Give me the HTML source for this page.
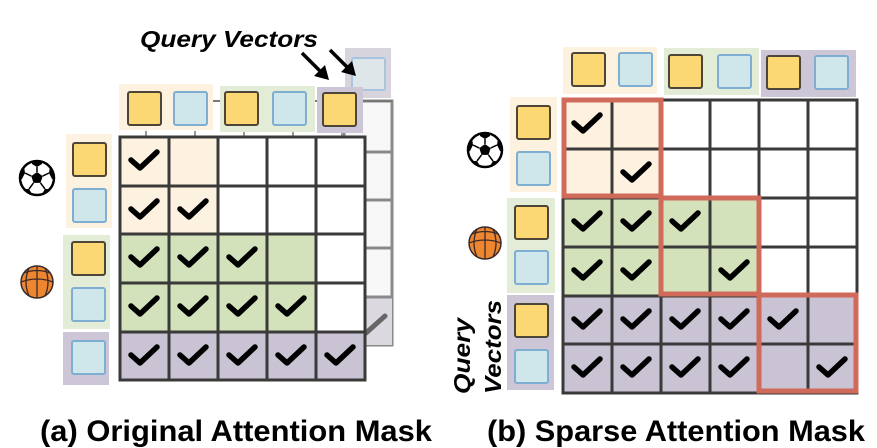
<!DOCTYPE html>
<html><head><meta charset="utf-8"><style>
html,body{margin:0;padding:0;background:#fff;}
svg{display:block;font-family:"Liberation Sans",sans-serif;}
</style></head><body>
<svg width="877" height="448" viewBox="0 0 877 448" xmlns="http://www.w3.org/2000/svg">
<defs>
<path id="ck" d="M11 23 L20 31 L37 15" stroke="#000" stroke-width="5.5" fill="none" stroke-linecap="round" stroke-linejoin="round"/>
<rect id="ty" width="33" height="33" rx="2" fill="#fcd874" stroke="#4d4538" stroke-width="2"/>
<rect id="tb" width="33" height="33" rx="2" fill="#cfe6ea" stroke="#7eaed2" stroke-width="2"/>
<clipPath id="bc"><circle r="16"/></clipPath>
<g id="soccer">
<circle r="17" fill="#fff"/>
<g clip-path="url(#bc)" fill="#000">
<polygon points="0,-6 5.7,-1.9 3.5,4.9 -3.5,4.9 -5.7,-1.9"/>
<polygon points="-5,-20 5,-20 5,-14 0,-11 -5,-14"/>
<polygon points="13,-12 20,-8 20,2 15,1 12,-5"/>
<polygon points="-13,-12 -20,-8 -20,2 -15,1 -12,-5"/>
<polygon points="-13,11 -8,11 -5,16 -10,20 -16,16"/>
<polygon points="13,11 8,11 5,16 10,20 16,16"/>
</g>
<path d="M0 -6 L0 -11 M5.7 -1.9 L12 -5 M-5.7 -1.9 L-12 -5 M3.5 4.9 L8 11 M-3.5 4.9 L-8 11" stroke="#000" stroke-width="1.5"/>
<circle r="17" fill="none" stroke="#000" stroke-width="2.5"/>
</g>
<g id="bball">
<circle r="16" fill="#ee8630" stroke="#3a2a2a" stroke-width="1.5"/>
<path d="M-16 0 Q0 -6 16 0 M-8 -14 Q-14 0 -8 14 M8 -14 Q14 0 8 14 M0 -16 L0 16 M-13 -9 Q0 -14 13 -9" stroke="#3a2a2a" stroke-width="1.3" fill="none"/>
</g>
</defs>

<!-- ===== (a) ===== -->
<rect x="345" y="48" width="46" height="50" fill="#d8d4de"/>
<rect x="352" y="58" width="33" height="32" rx="2" fill="#dfe6ea" stroke="#a8c4de" stroke-width="2"/>
<rect x="344" y="101" width="48" height="244" fill="#f8f8f8" stroke="#8a8a8a" stroke-width="3"/>
<rect x="365" y="297" width="27" height="48" fill="#dcd8e0"/>
<path d="M344 152H392M344 200H392M344 248H392M344 297H392" stroke="#8a8a8a" stroke-width="3"/>
<path d="M366 333 L385 316" stroke="#666" stroke-width="5" stroke-linecap="round"/>
<path d="M213 101H222M315 101H392" stroke="#777" stroke-width="2"/>
<path d="M146 131V137M195 131V137M244 131V137M293 131V137M342 131V137" stroke="#999" stroke-width="2"/>

<rect x="119" y="84" width="94" height="46" fill="#fdf2df"/>
<use href="#ty" x="128" y="92"/><use href="#tb" x="174" y="92"/>
<rect x="220" y="86" width="95" height="46" fill="#e2ecd7"/>
<use href="#ty" x="225" y="92"/><use href="#tb" x="273" y="92"/>
<rect x="317" y="87" width="46" height="46" fill="#ccc6d6"/>
<use href="#ty" x="323" y="93"/>

<rect x="66" y="134" width="46" height="94" fill="#fdf2df"/>
<use href="#ty" x="73" y="143"/><use href="#tb" x="73" y="189"/>
<rect x="63" y="235" width="47" height="94" fill="#e2ecd7"/>
<use href="#ty" x="72" y="242"/><use href="#tb" x="72" y="288"/>
<rect x="63" y="332" width="46" height="53" fill="#ccc6d6"/>
<use href="#tb" x="72" y="341"/>

<use href="#soccer" x="37" y="178"/>
<use href="#bball" x="37" y="282"/>

<rect x="120" y="137" width="245" height="243" fill="#fff"/>
<rect x="120" y="137" width="98" height="97" fill="#fdf2df"/>
<rect x="120" y="234" width="196" height="98" fill="#d3e2bb"/>
<rect x="120" y="332" width="245" height="48" fill="#c9c3d3"/>
<g stroke="#3a3a3a" stroke-width="3" fill="none">
<rect x="120" y="137" width="245" height="243"/>
<path d="M169 137V380M218 137V380M267 137V380M316 137V380M120 186H365M120 234H365M120 283H365M120 332H365"/>
</g>
<use href="#ck" x="120" y="137"/>
<use href="#ck" x="120" y="186"/><use href="#ck" x="169" y="186"/>
<use href="#ck" x="120" y="234"/><use href="#ck" x="169" y="234"/><use href="#ck" x="218" y="234"/>
<use href="#ck" x="120" y="283"/><use href="#ck" x="169" y="283"/><use href="#ck" x="218" y="283"/><use href="#ck" x="267" y="283"/>
<use href="#ck" x="120" y="332"/><use href="#ck" x="169" y="332"/><use href="#ck" x="218" y="332"/><use href="#ck" x="267" y="332"/><use href="#ck" x="316" y="332"/>

<text x="140" y="47" font-size="23" font-weight="bold" font-style="italic" textLength="178" lengthAdjust="spacingAndGlyphs">Query Vectors</text>
<g stroke="#000" stroke-width="3.5">
<path d="M302 53 L321 72"/><path d="M330 50 L348 68"/>
</g>
<polygon points="329,80 314,76 325,65" fill="#000"/>
<polygon points="356,76 341,72 352,61" fill="#000"/>

<text x="40" y="441" font-size="30" font-weight="bold" textLength="392" lengthAdjust="spacingAndGlyphs">(a) Original Attention Mask</text>

<!-- ===== (b) ===== -->
<rect x="563" y="47" width="94" height="47" fill="#fdf2df"/>
<use href="#ty" x="572" y="53"/><use href="#tb" x="619" y="53"/>
<rect x="664" y="48" width="95" height="47" fill="#e2ecd7"/>
<use href="#ty" x="669" y="55"/><use href="#tb" x="718" y="55"/>
<rect x="761" y="50" width="95" height="47" fill="#ccc6d6"/>
<use href="#ty" x="767" y="56"/><use href="#tb" x="815" y="56"/>

<rect x="510" y="97" width="47" height="95" fill="#fdf2df"/>
<use href="#ty" x="517" y="106"/><use href="#tb" x="517" y="152"/>
<rect x="507" y="198" width="48" height="95" fill="#e2ecd7"/>
<use href="#ty" x="515" y="206"/><use href="#tb" x="515" y="251"/>
<rect x="507" y="295" width="47" height="95" fill="#ccc6d6"/>
<use href="#ty" x="515" y="304"/><use href="#tb" x="515" y="350"/>

<use href="#soccer" x="485" y="150"/>
<use href="#bball" x="485" y="243"/>

<rect x="563" y="100" width="294" height="293" fill="#fff"/>
<rect x="563" y="100" width="98" height="98" fill="#fdf2df"/>
<rect x="563" y="198" width="196" height="98" fill="#d3e2bb"/>
<rect x="563" y="296" width="294" height="97" fill="#c9c3d3"/>
<g stroke="#3a3a3a" stroke-width="3" fill="none">
<rect x="563" y="100" width="294" height="293"/>
<path d="M612 100V393M661 100V393M710 100V393M759 100V393M808 100V393M563 149H857M563 198H857M563 247H857M563 296H857M563 344H857"/>
</g>
<g stroke="#d06a5a" stroke-width="5" fill="none">
<rect x="564" y="100" width="97" height="96"/>
<rect x="661" y="198" width="98" height="96"/>
<rect x="759" y="295" width="97" height="96"/>
</g>
<use href="#ck" x="563" y="100"/><use href="#ck" x="612" y="149"/>
<use href="#ck" x="563" y="198"/><use href="#ck" x="612" y="198"/><use href="#ck" x="661" y="198"/>
<use href="#ck" x="563" y="247"/><use href="#ck" x="612" y="247"/><use href="#ck" x="710" y="247"/>
<use href="#ck" x="563" y="296"/><use href="#ck" x="612" y="296"/><use href="#ck" x="661" y="296"/><use href="#ck" x="710" y="296"/><use href="#ck" x="759" y="296"/>
<use href="#ck" x="563" y="344"/><use href="#ck" x="612" y="344"/><use href="#ck" x="661" y="344"/><use href="#ck" x="710" y="344"/><use href="#ck" x="808" y="344"/>

<text transform="translate(470,394) rotate(-90)" font-size="23" font-weight="bold" font-style="italic" textLength="76" lengthAdjust="spacingAndGlyphs">Query</text>
<text transform="translate(501,394) rotate(-90)" font-size="23" font-weight="bold" font-style="italic" textLength="94" lengthAdjust="spacingAndGlyphs">Vectors</text>

<text x="487" y="441" font-size="30" font-weight="bold" textLength="378" lengthAdjust="spacingAndGlyphs">(b) Sparse Attention Mask</text>
</svg>
</body></html>
